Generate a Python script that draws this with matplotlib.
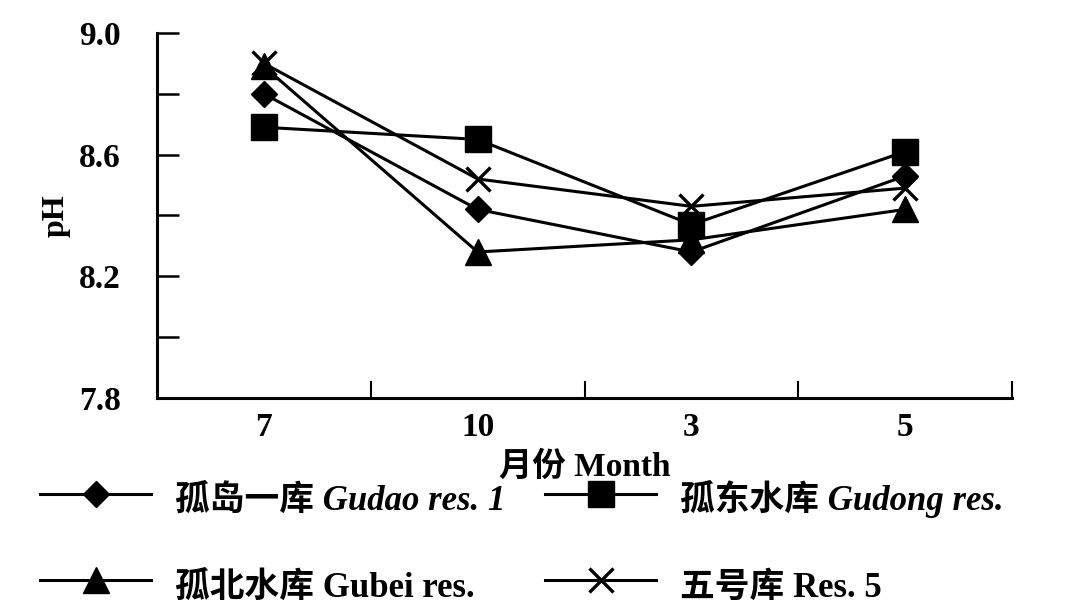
import numpy as np
import matplotlib
matplotlib.use('agg')
import matplotlib.pyplot as plt
from matplotlib.ticker import FixedLocator

## Data
months = ['7', '10', '3', '5']
gudao = [8.80, 8.42, 8.28, 8.53]
gudong = [8.69, 8.65, 8.37, 8.61]
gubei = [8.89, 8.28, 8.32, 8.42]
res5 = [8.90, 8.52, 8.43, 8.49]

labels = ['孤岛一库 Gudao res. 1', '孤东水库 Gudong res.',
          '孤北水库 Gubei res.', '五号库 Res. 5']

fam = ['Liberation Serif', 'Noto Sans CJK SC']
plt.rcParams['font.family'] = fam

fig = plt.figure(figsize=(10.71, 6.10), dpi=100)
ax = fig.add_axes([0.1466, 0.3475, 0.7984, 0.5985])

x = np.arange(len(months))
lw = 2.2
h1, = ax.plot(x, gudao, color='black', lw=lw, marker='D', ms=13)
h2, = ax.plot(x, gudong, color='black', lw=lw, marker='s', ms=19)
h3, = ax.plot(x, gubei, color='black', lw=lw, marker='^', ms=19)
h4, = ax.plot(x, res5, color='black', lw=lw, marker='x', ms=17, mew=2.4)

ax.set_xlim(-0.5, 3.5)
ax.set_ylim(7.8, 9.0)
ax.set_xticks(x)
ax.set_xticklabels(months)
ax.xaxis.set_minor_locator(FixedLocator([0.5, 1.5, 2.5, 3.5]))
ax.set_yticks([7.8, 8.2, 8.6, 9.0])
ax.set_yticklabels(['7.8', '8.2', '8.6', '9.0'])
ax.yaxis.set_minor_locator(FixedLocator([8.0, 8.4, 8.8]))

ax.tick_params(axis='x', which='major', length=0, pad=10, labelsize=24)
ax.tick_params(axis='x', which='minor', direction='in', length=12, width=1.5)
ax.tick_params(axis='y', which='both', direction='in', length=16, width=1.8, pad=26, labelsize=24)
for lab in ax.get_xticklabels() + ax.get_yticklabels():
    lab.set_fontweight('bold')

for s in ['top', 'right']:
    ax.spines[s].set_visible(False)
for s in ['left', 'bottom']:
    ax.spines[s].set_linewidth(2.2)

ax.set_ylabel('pH', fontsize=23, fontweight='bold', labelpad=6)
ax.set_xlabel('月份 Month', fontsize=24, fontweight='bold', labelpad=6)

## two legend columns placed separately
W, H = 1071.0, 610.0
common = dict(loc='upper left', frameon=False, fontsize=25, handlelength=3.2,
              handleheight=1.45, handletextpad=0.7, labelspacing=1.3,
              borderpad=0, borderaxespad=0)
leg1 = fig.legend([h1, h3], [labels[0], labels[2]],
                  bbox_to_anchor=(40 / W, 1 - 478 / H), **common)
leg2 = fig.legend([h2, h4], [labels[1], labels[3]],
                  bbox_to_anchor=(545 / W, 1 - 478 / H), **common)
for leg in (leg1, leg2):
    for t in leg.get_texts():
        t.set_fontweight('bold')
leg1.get_texts()[0].set_fontstyle('italic')
leg2.get_texts()[0].set_fontstyle('italic')

fig.savefig('out.png', dpi=100)
